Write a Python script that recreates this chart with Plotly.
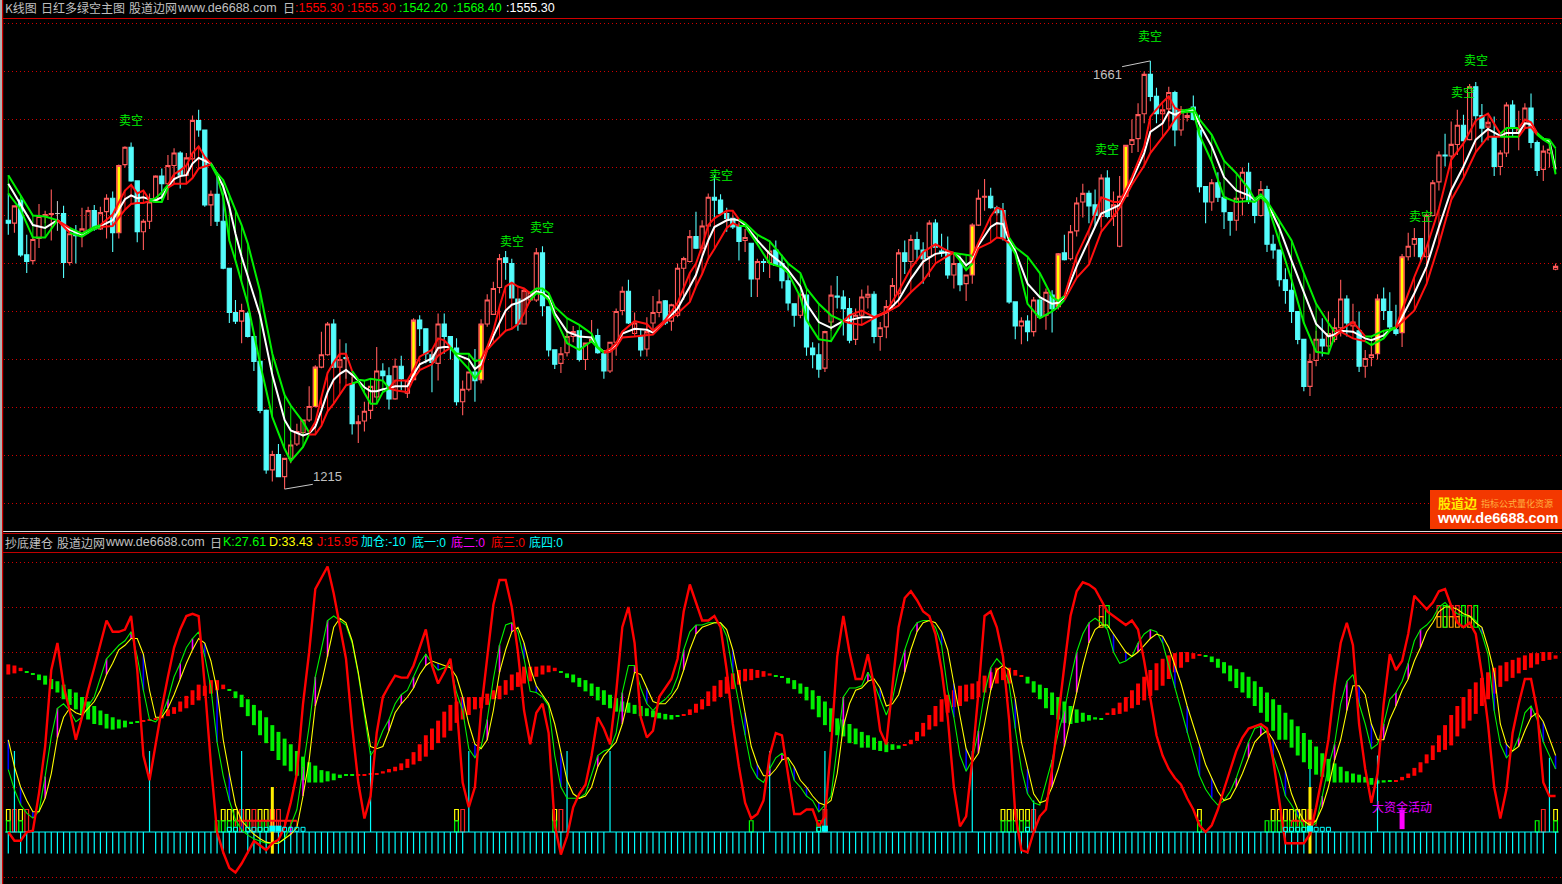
import plotly.graph_objects as go

N = 253
# ---------- price panel ----------
body_hi = [1495,1510,1516,1459,1475,1499,1501,1502,1502,1502,
 1481,1482,1486,1505,1505,1503,1518,1518,1552,1571,
 1571,1536,1494,1514,1541,1541,1552,1565,1565,1560,
 1599,1599,1589,1522,1522,1494,1445,1399,1401,1398,
 1374,1348,1297,1251,1251,1247,1261,1275,1287,1301,
 1342,1355,1387,1387,1350,1352,1325,1285,1296,1322,
 1338,1338,1333,1343,1343,1328,1391,1391,1382,1355,
 1387,1387,1374,1362,1319,1337,1337,1387,1412,1424,
 1455,1456,1450,1413,1422,1420,1461,1461,1405,1360,
 1356,1374,1379,1380,1367,1371,1375,1356,1368,1400,
 1421,1421,1388,1374,1379,1399,1410,1411,1407,1445,
 1455,1478,1478,1489,1519,1519,1516,1502,1497,1489,
 1477,1471,1452,1452,1463,1464,1450,1432,1408,1418,
 1417,1362,1355,1379,1417,1416,1415,1403,1396,1415,
 1418,1418,1383,1405,1427,1461,1461,1475,1475,1464,
 1492,1492,1463,1462,1450,1450,1438,1490,1518,1520,
 1520,1508,1505,1474,1410,1390,1390,1412,1412,1420,
 1417,1460,1461,1483,1513,1523,1523,1511,1539,1539,
 1511,1520,1573,1579,1605,1647,1647,1624,1610,1628,
 1628,1610,1604,1613,1589,1530,1534,1534,1519,1503,
 1518,1545,1545,1515,1527,1527,1470,1464,1433,1422,
 1400,1371,1348,1371,1371,1377,1383,1413,1413,1389,
 1380,1351,1355,1413,1413,1400,1381,1457,1468,1476,
 1476,1500,1534,1563,1563,1574,1594,1594,1634,1634,
 1604,1597,1582,1565,1615,1615,1590,1612,1612,1576,
 1567,1569,1447]
body_lo = [1492,1492,1459,1452,1453,1476,1499,1501,1502,1451,
 1451,1479,1480,1484,1486,1486,1504,1482,1482,1553,
 1536,1483,1483,1494,1514,1533,1533,1552,1542,1542,
 1559,1589,1511,1511,1494,1445,1399,1390,1390,1374,
 1348,1297,1235,1235,1228,1228,1247,1262,1274,1287,
 1301,1342,1355,1342,1342,1351,1283,1283,1286,1297,
 1311,1333,1309,1309,1330,1315,1329,1382,1356,1347,
 1346,1374,1362,1306,1306,1319,1328,1329,1387,1397,
 1425,1451,1414,1387,1387,1412,1412,1406,1360,1345,
 1346,1357,1374,1350,1350,1368,1357,1338,1338,1368,
 1401,1388,1377,1360,1361,1388,1399,1388,1390,1396,
 1445,1452,1466,1466,1489,1516,1502,1497,1488,1473,
 1474,1434,1434,1451,1451,1448,1432,1409,1396,1396,
 1363,1355,1340,1341,1389,1415,1403,1370,1371,1396,
 1415,1374,1374,1384,1406,1419,1452,1452,1465,1455,
 1457,1467,1461,1438,1438,1428,1429,1438,1490,1519,
 1508,1503,1476,1410,1385,1385,1379,1379,1394,1396,
 1403,1405,1454,1455,1484,1514,1510,1500,1499,1499,
 1499,1468,1520,1574,1580,1606,1624,1606,1606,1611,
 1589,1589,1602,1600,1530,1514,1514,1519,1504,1495,
 1495,1518,1515,1500,1500,1470,1464,1433,1422,1400,
 1371,1322,1322,1349,1364,1364,1371,1383,1388,1385,
 1343,1343,1352,1356,1401,1384,1377,1378,1457,1470,
 1457,1457,1500,1535,1562,1562,1574,1578,1579,1604,
 1591,1592,1551,1551,1565,1591,1586,1596,1576,1547,
 1548,1565,1444]
high = [1523,1510,1521,1480,1478,1512,1505,1527,1515,1510,
 1481,1490,1508,1509,1511,1509,1522,1525,1553,1572,
 1576,1536,1496,1523,1542,1549,1563,1570,1567,1565,
 1604,1610,1589,1526,1545,1523,1445,1412,1408,1400,
 1374,1348,1298,1255,1262,1247,1266,1283,1287,1322,
 1344,1379,1389,1392,1371,1367,1332,1292,1306,1322,
 1363,1346,1342,1351,1354,1329,1393,1396,1382,1360,
 1398,1398,1374,1372,1328,1337,1361,1392,1418,1431,
 1460,1463,1455,1413,1424,1420,1466,1468,1405,1360,
 1363,1380,1385,1380,1367,1391,1382,1360,1368,1403,
 1426,1433,1399,1382,1394,1416,1423,1412,1408,1450,
 1457,1485,1504,1495,1523,1542,1522,1508,1500,1492,
 1486,1471,1455,1455,1474,1474,1459,1440,1408,1418,
 1419,1368,1367,1380,1427,1437,1422,1414,1403,1423,
 1427,1421,1389,1412,1435,1465,1474,1480,1483,1472,
 1495,1496,1481,1478,1460,1457,1438,1492,1527,1538,
 1529,1510,1513,1474,1410,1394,1396,1415,1412,1424,
 1422,1461,1480,1490,1519,1533,1526,1527,1543,1547,
 1525,1541,1573,1600,1617,1650,1661,1633,1615,1634,
 1630,1614,1610,1625,1605,1530,1538,1545,1519,1503,
 1520,1550,1555,1518,1536,1531,1480,1464,1445,1438,
 1400,1371,1356,1380,1393,1400,1393,1433,1417,1408,
 1400,1360,1367,1418,1425,1420,1407,1460,1482,1487,
 1476,1502,1537,1567,1585,1598,1610,1605,1637,1639,
 1616,1599,1603,1568,1618,1620,1609,1617,1627,1578,
 1573,1578,1450]
low = [1480,1482,1457,1440,1449,1466,1492,1474,1484,1435,
 1448,1450,1467,1481,1484,1485,1476,1462,1476,1550,
 1535,1472,1464,1486,1513,1516,1516,1533,1528,1533,
 1558,1582,1509,1489,1489,1444,1388,1387,1367,1373,
 1338,1294,1231,1223,1228,1215,1242,1260,1269,1285,
 1300,1341,1354,1341,1325,1330,1272,1263,1275,1288,
 1308,1328,1298,1308,1318,1310,1328,1364,1346,1316,
 1328,1356,1350,1302,1292,1317,1306,1325,1384,1397,
 1419,1433,1414,1380,1387,1410,1410,1395,1353,1340,
 1336,1353,1368,1348,1339,1368,1356,1330,1336,1354,
 1396,1387,1375,1353,1353,1380,1394,1386,1380,1394,
 1412,1451,1465,1465,1488,1495,1500,1483,1486,1453,
 1462,1415,1415,1441,1435,1448,1424,1401,1384,1393,
 1354,1341,1331,1337,1380,1403,1375,1367,1365,1394,
 1403,1367,1359,1372,1403,1417,1439,1443,1453,1429,
 1436,1453,1457,1434,1424,1421,1411,1429,1489,1505,
 1507,1500,1474,1408,1371,1366,1369,1374,1393,1381,
 1378,1402,1453,1453,1478,1498,1492,1489,1488,1497,
 1489,1467,1519,1565,1566,1596,1619,1596,1605,1598,
 1572,1583,1598,1599,1524,1492,1505,1514,1486,1479,
 1484,1500,1512,1492,1499,1462,1455,1426,1408,1388,
 1366,1317,1312,1343,1353,1356,1368,1374,1374,1377,
 1337,1331,1343,1350,1391,1379,1375,1363,1453,1457,
 1450,1457,1499,1526,1551,1549,1563,1577,1578,1597,
 1576,1578,1541,1542,1561,1582,1568,1590,1570,1541,
 1536,1550,1443]
candle_dir = ("CRCCRRRRCC" "RCRRCRRCRR" "CCRRRCRRCR" "RCCRCCCCRC" "CCCRCRRRRR"
              "RRRCRCCRRR" "RCCRCRRCCC" "RCCCRRCRRR" "RCCCRRRCCC" "RRRCRRCCRR"
              "RCRCRRRCRR" "RRCRRCCCCC" "RCRCRCCCCR" "CCCRRCCCRR" "RCRRRRCRCC"
              "RCCCRCRRRR" "CCCCCRCRCR" "CRCRRRCCRC" "RRRRRRCCRR" "CRRCCCRCCC"
              "RRCCRCCCCC" "CCRRCRRRCR" "CRRRCCCRRR" "CRRRCRRCRC" "CRCRRCRRCC"
              "RRR")

marked = [18, 50, 66, 77, 157, 171, 182, 223, 227]
sell_i = [20, 82, 87, 116, 179, 186, 237, 239, 230]
sell_p = [1600, 1474, 1489, 1543, 1570, 1687, 1629, 1662, 1500]

ma_idx = [0,2,4,6,8,10,12,14,15,17,
 19,20,21,22,23,24,25,26,27,28,
 29,30,31,32,33,34,35,36,37,38,
 39,41,43,45,46,48,49,50,51,52,
 53,54,55,56,57,58,59,60,61,62,
 63,65,66,67,69,70,71,72,73,75,
 76,77,78,79,80,81,82,83,84,85,
 86,87,88,89,91,93,95,96,97,98,
 99,100,102,104,105,107,109,111,112,113,
 114,115,117,118,119,120,122,124,126,127,
 129,130,132,134,136,137,139,141,143,145,
 147,149,151,153,154,155,156,157,158,160,
 161,162,163,164,166,168,170,171,172,174,
 176,178,180,181,183,185,186,188,189,190,
 191,192,193,194,196,198,200,202,203,204,
 205,207,209,211,213,215,216,217,219,221,
 222,224,225,226,227,229,231,233,235,237,
 239,241,243,244,246,247,248,249,250,251,252]
ma_a = [1542,1521,1500,1499,1495,1487,1481,1488,1490,1501,
 1526,1532,1523,1526,1516,1518,1524,1532,1543,1547,
 1552,1565,1572,1561,1554,1544,1537,1521,1504,1490,
 1471,1421,1356,1313,1302,1285,1274,1285,1311,1336,
 1347,1356,1356,1338,1329,1328,1330,1329,1328,1320,
 1328,1328,1339,1353,1360,1372,1370,1363,1356,1356,
 1348,1350,1363,1380,1405,1426,1430,1426,1424,1419,
 1424,1424,1419,1405,1393,1386,1377,1363,1358,1361,
 1367,1379,1390,1387,1380,1391,1409,1440,1450,1468,
 1490,1497,1505,1505,1496,1492,1480,1473,1458,1450,
 1440,1424,1408,1396,1390,1396,1401,1394,1400,1421,
 1445,1462,1470,1463,1461,1460,1459,1458,1472,1499,
 1508,1506,1477,1467,1457,1440,1415,1411,1416,1458,
 1485,1519,1514,1514,1540,1572,1603,1618,1624,1612,
 1609,1610,1612,1600,1584,1557,1544,1528,1517,1522,
 1515,1495,1474,1440,1408,1388,1379,1381,1389,1374,
 1374,1380,1381,1384,1401,1436,1467,1507,1558,1575,
 1599,1606,1585,1591,1591,1600,1597,1586,1580,1579,1570]
ma_b = [1523,1506,1477,1477,1495,1482,1478,1486,1488,1489,
 1506,1512,1513,1513,1515,1514,1514,1529,1533,1533,
 1533,1539,1549,1551,1553,1541,1519,1474,1453,1431,
 1408,1346,1290,1257,1244,1259,1272,1272,1281,1296,
 1304,1313,1323,1325,1327,1315,1304,1304,1316,1320,
 1318,1316,1330,1339,1345,1354,1358,1362,1354,1340,
 1330,1339,1360,1367,1374,1380,1382,1387,1398,1412,
 1419,1418,1412,1394,1367,1360,1369,1362,1357,1358,
 1363,1373,1374,1375,1376,1389,1398,1410,1426,1439,
 1455,1465,1487,1492,1489,1489,1470,1450,1446,1440,
 1415,1391,1371,1369,1390,1388,1386,1393,1399,1406,
 1420,1432,1450,1458,1461,1453,1443,1450,1466,1472,
 1477,1476,1471,1460,1408,1393,1400,1405,1412,1435,
 1449,1483,1499,1508,1532,1552,1565,1582,1590,1600,
 1607,1608,1608,1584,1556,1519,1514,1515,1514,1519,
 1513,1473,1433,1388,1358,1356,1374,1379,1372,1369,
 1365,1372,1380,1383,1389,1401,1429,1470,1516,1539,
 1566,1582,1582,1582,1582,1591,1592,1584,1579,1575,1543]
ma_mid = [1533,1512,1490,1487,1495,1485,1480,1487,1489,1495,
 1517,1521,1518,1519,1517,1516,1519,1530,1538,1541,
 1542,1554,1560,1557,1554,1543,1530,1509,1481,1457,
 1436,1396,1334,1287,1276,1271,1273,1280,1297,1316,
 1329,1335,1339,1334,1328,1321,1317,1317,1319,1320,
 1322,1322,1334,1345,1351,1362,1363,1363,1355,1350,
 1340,1345,1361,1375,1388,1401,1407,1409,1412,1416,
 1421,1419,1415,1398,1379,1374,1373,1363,1358,1360,
 1365,1377,1382,1381,1378,1390,1403,1426,1438,1457,
 1474,1488,1495,1496,1495,1490,1474,1460,1450,1443,
 1426,1408,1389,1383,1390,1391,1394,1394,1399,1412,
 1434,1452,1460,1462,1461,1456,1448,1453,1469,1488,
 1492,1491,1474,1463,1429,1415,1408,1409,1415,1447,
 1474,1502,1508,1511,1537,1565,1587,1596,1608,1605,
 1608,1609,1609,1595,1572,1540,1526,1521,1516,1520,
 1514,1487,1453,1419,1387,1374,1376,1380,1379,1372,
 1370,1375,1381,1383,1394,1419,1447,1488,1526,1551,
 1579,1590,1583,1586,1586,1596,1595,1585,1580,1577,1548]
ma_col = ("gggggrgggr" "rrrrrgggrr" "rrrrrggggg" "gggggggrrr" "rrrrgggggg"
          "rrrrrrrrgg" "ggrrrrrrrr" "gggggggggr" "rrrrrrrrrr" "rrrrrggggg"
          "gggggrrrrr" "rrrrrgggrr" "rrrggggggr" "rrrrrrrrrr" "rggggggggg"
          "gggggggrrr" "ggggrrrrrr" "rrrggrrrgg" "g")

label_low_i, label_low_p = 45, 1215
label_high_i, label_high_p = 186, 1661

# ---------- indicator panel ----------
K = [27.7,18.8,12.1,8.4,6.2,9.2,24.7,42.5,55,57,
 54,49,51,56,60,69,77,80,83,85,
 89,78,63,50,49,52,59,69,75,82,
 86,89,78,64,40,25,14,5.5,1,-1.4,
 -3,-4,-5,-5,-5,-3,3,10,29,47,
 69,81,94,96,94,92,84,70,52,34,
 38,45,50,57,61,63,69,75,79,75,
 72,73,74,62,54,37,33,38,50,68,
 83,92,93,89,77,62.5,62,60,56,34,
 20,15,15,15,17,25,34,36,37,44,
 62,74,74,64,57,54,57,59,62,69,
 81,89,92,92,93,93,93,87,71,57,
 43,29,24,22,28,33,35,32,23,20,
 16,14,9,12,16,38,60,64,64,65,
 71,66,59,52,59,72,81,89,93,94,
 94,91,83,63,51,34,27,32,45,62,
 73,77,74,66,46,28,17,13,12,22,
 32,44,54,68,80,88,93,95,93,90,
 80,75,76,78,84,88,90,89,84,74,
 64,54,44,35,25,19,15,12,14,18,
 24,32,40,46,47,44,34,26,16,12,
 7,2,2,4,16,29,39,57,67,70,
 57,48,37,39,48,59,62,67,75,85,
 90,92,95,100,102,99,97,96,96,94,
 88,79,54,39,33,36,42,53,56,50,
 40,34,28]
D = [41,29,20,14,9,9,15,26,42,51,
 55,53,52,55,58,63,70,75,81,83,
 86,86,79,63,51,51,55,61,68,75,
 81,86,84,76,63,41,26,12,5,2,
 -1,-3,-4.5,-5,-5,-3,-1,2,16,32,
 56,66,78,91,95,93,85,71,54,38,
 37,38,45,53,57,60,64,70,74,76,
 75,74,73,69,60,48,39,37,41,54,
 71,81,89,91,84,73,65,61,57,48,
 35,23,17,15,16,20,29,34,37,40,
 48,60,71,70,64,58,57,57,60,64,
 72,81,88,91,92,93,93,90,81,68,
 53,38,30,25,25,28,32,33,29,23,
 20,16,13,12,14,26,47,57,63,64,
 67,68,64,56,57,61,71,81,89,93,
 94,93,89,81,66,51,37,31,35,48,
 63,72,74,72,59,40,28,17,13,14,
 20,28,38,50,62,74,84,90,92,92,
 88,84,80,78,80,83,86,88,87,82,
 74,66,56,47,38,30,24,18,14,15,
 20,26,33,40,43,45,41,35,27,17,
 10,5,3,5,11,20,32,41,54,65,
 65,61,48,41,41,50,56,63,68,76,
 82,89,93,98,100,100,99,97,96,93,
 91,82,71,48,39,36,38,45,51,53,
 49,41,34]
J = [0,-3.9,-3.9,0,0.6,17.3,38,72,84,65,
 54,41,51,63,73,84,94,89,89,90,
 96,72,34,23,40,55,69,82,90,96,
 97,96,65,30,0,-9,-16,-18,-14,-9,
 -4,-6,-8,-5,-3.5,2.4,13,26,57,80,
 108,113,118,106,92,77,47,22,6,16,
 44,60,65,69.5,68.6,68.6,74,82,90,74,
 66,71,77,57,22,11,20,54,77,101,
 112,112,100,80,54,39,53,57,44,3,
 -10,-2,11,17,21,34,51,46,39,62,
 91,100,84,51,42,45,60,64,68,77,
 98,110,102,94,94,96,91,72,48,29,
 13,6,8,14,34,44,43,26,8,8,
 10,10,2.5,7,38,78,96,80,68,68,
 79,65,45,39,66,91,104,107,103,98,
 96,88,72,51,20,2.5,7,32,62,96,
 98,91,78,50,8,-8,-9,0,7,10,
 28,52,74,96,107,111,110,108,103,98,
 96,94,92,94,90,76,59,43,34,28,
 24,21,15,10,3,0,3,10,19,28,
 36,42,46,47,48,46,32,14,-5,-5,
 -5,-5,-1,11,25,41,65,84,93,83,
 48,28,13,26,57,79,72,76,88,105,
 102,99,102,107,108,100,93,91,93,88,
 70,48,20,6,19,44,57,68,68,54,
 22,16,16]
hist_top = [74.5,74,73,71,70.5,70,69.5,68,67,65.5,
 63.5,62,60,58,56,54,52.5,51,50,49.5,
 49,49,49.5,50,50.5,52,54.5,55.5,58,60.5,
 63,65.5,65,67.5,67.5,65.5,63.5,62.5,61,59,
 56.5,54,51,47.5,44.5,41.5,39,36,33.5,31,
 29.5,27.5,27,26,25.5,25,25.5,25.5,25.5,26,
 26,27,28,29,30.5,32.5,35.5,39,43,46,
 49.5,53.5,56.5,58,60,60,60,60,61.5,63,
 65,67.5,70,71,73.5,73.5,73.5,74,74,73,
 71,70.5,70,68.5,67.5,66,64.5,63,61,59.5,
 58,57.5,56.5,56,55,54,53,52.5,52,52,
 52,54.5,57,59,62.5,65,67.5,69,70.5,72,
 72.5,72.5,72,71.5,70.5,69.5,69,68.5,67.5,66,
 64.5,63,60.5,58,55,50.5,50,48,46,44.5,
 43,42,40.5,40,39,38.5,39,41,44.5,48.5,
 52,56,59,61,63,65,65.5,66,67,69.5,
 71,73,73,73,72,69.5,69,67,65.5,64,
 62,60,58,56,54.5,53,52,51,50.5,53,
 55,57.5,60,63,66,69,72,75,77,78.5,
 79.5,80,80,79.5,79,78.5,78,77,75.5,74,
 72.5,71,69,67,64.5,62,59,56.5,53,50,
 47,44,41,38,35,32.5,30.5,29,27,26,
 25.5,24.5,24,23,23,22.5,23,24.5,26,28.5,
 31,34.5,38.5,43,47.5,52,56,60,63.5,66.5,
 68.5,71,73,74,75.5,76.5,77.5,78.5,79.5,79.5,
 80,80,78.5]
hist_bot = [70,70.5,71.5,71,70,67.5,65.5,63.5,62,59,
 56.5,54.5,52,50,48,47.5,46,45.5,46,46.5,
 48,48.5,49,49.5,50,50.5,51.5,52.5,53.5,55,
 56.5,58.5,60.5,61.5,63,63.5,63,59.5,55.5,51.5,
 47.5,43,39.5,36,32,29.5,27,25,23,22,
 22,22,22.5,23,24,25,25,25,25,25.5,
 25.5,26,26.5,27,27.5,28.5,30,31.5,33.5,36.5,
 39.5,42,45,48.5,50,52,54.5,55,56.5,59,
 59,61,63,64.5,66,67,69,70,71,71.5,
 71,68.5,66.5,64.5,62.5,60.5,58.5,56.5,55,53.5,
 53.5,53,52.5,51.5,51.5,51,50.5,50,50,51.5,
 52,52,53,54.5,56,58,60,61.5,63.5,65.5,
 67,67.5,68.5,69,69.5,69,68.5,66,63.5,61.5,
 58.5,54.5,51,47.5,44.5,43,42.5,39.5,39,37.5,
 37.5,36.5,36,35.5,36.5,37,38.5,39,40.5,42.5,
 45.5,47,49,53,55.5,56,58,59,60,62,
 64,66,67.5,66,69.5,69,66,62,59,55,
 52,50,48.5,48,48.5,49,49.5,50,50,52,
 52,52.5,53.5,55,56.5,58.5,60.5,63,65,68,
 71,73,75.5,77,78.5,78,75.5,73,70.5,67,
 64,62,59.5,56,53,49,45,41,41,37.5,
 34,31,28,25.5,24.5,22.5,22,22,22,22,
 22,22,21,21.5,22,22.5,22.5,23,24,25,
 26.5,30.5,32,35.5,36.5,38.5,42.5,46,49.5,52.5,
 56,59,61.5,64.5,67,68.5,70.5,72,73,74.5,
 76,76.5,77]
hist_red_spans = [(0,2),(22,35),(57,89),(110,124),(146,165),(179,194),(226,252)]

up_sticks = [1,23,38,59,75,91,98,124,133,157,167,212,223,251]
up_stick_values = [36,36,36,36,36,36,36,36,36,36,14,28,34,33]
rect_yellow = [0,2,35,36,37,39,41,42,43,73,89,162,163,164,165,166,194,206,207,208,209,210,211,252]
rect_green = [0,2,34,35,36,37,39,41,42,73,89,121,132,162,163,164,165,166,194,205,206,207,208,209,210,211,249,252]
rect_red = [1,3,38,43,90,74,133,167,212,250,44,40]
top_red = [178,233,235,236,238]
top_orange = [178,233,234,235,236,238]
top_green = [179,234,237,239]
hollow_sq = [36,37,39,40,41,42,45,46,47,48,132,166,208,209,210,211,213,214,215]
solid_sq = [43,44,133,212]
box_spans = [(37,47),(209,213)]
big_sticks = [43,212]
money_i = 227
money_v = 10

# ---------- helpers ----------
def py2p(py):
    return 1 - py / 884

fig = go.Figure()
up_i = [i for i in range(N) if candle_dir[i] == "R"]
dn_i = [i for i in range(N) if candle_dir[i] != "R" and i != 8]
UP = "#ff5a5a"; DN = "#54fcfc"

def candle(idx, up):
    col = UP if up else DN
    op = [body_lo[i] if up else body_hi[i] for i in idx]
    cl = [body_hi[i] + 0.01 if up else body_lo[i] for i in idx]
    return go.Candlestick(x=idx, open=op, close=cl,
        high=[high[i] for i in idx], low=[low[i] for i in idx],
        increasing=dict(line=dict(color=col, width=1.1), fillcolor="rgba(0,0,0,0)"),
        decreasing=dict(line=dict(color=col, width=1.1), fillcolor=col),
        whiskerwidth=0, hoverinfo="skip", showlegend=False, xaxis="x", yaxis="y")
fig.add_trace(candle(dn_i, False))
fig.add_trace(candle(up_i, True))

fig.add_trace(go.Bar(x=marked, base=[body_lo[i] for i in marked],
    y=[body_hi[i]-body_lo[i] for i in marked], width=0.78,
    marker=dict(color="#ff5a28", line=dict(width=0)), hoverinfo="skip", xaxis="x", yaxis="y"))
fig.add_trace(go.Bar(x=marked, base=[body_lo[i] for i in marked],
    y=[body_hi[i]-body_lo[i] for i in marked], width=0.4,
    marker=dict(color="#ffff00", line=dict(width=0)), hoverinfo="skip", xaxis="x", yaxis="y"))
fig.add_trace(go.Scatter(x=[8, 8, None, 7.6, 8.4], y=[low[8], high[8], None, body_hi[8], body_hi[8]],
    mode="lines", line=dict(color="#c8c8c8", width=1), hoverinfo="skip", xaxis="x", yaxis="y"))

# hatch and envelope
for key, col in (("g", "#00e600"), ("r", "#ff1010")):
    hx, hy = [], []
    for k, i in enumerate(ma_idx):
        if ma_col[k] == key and abs(ma_a[k]-ma_b[k]) > 4:
            hx += [i, i, None]; hy += [ma_a[k], ma_b[k], None]
    fig.add_trace(go.Scatter(x=hx, y=hy, mode="lines", line=dict(color=col, width=1),
        hoverinfo="skip", xaxis="x", yaxis="y"))
fig.add_trace(go.Scatter(x=ma_idx, y=ma_mid, mode="lines", line=dict(color="#ffffff", width=2),
    hoverinfo="skip", xaxis="x", yaxis="y"))
groups = []
k = 1
while k < len(ma_idx):
    j = k
    while j + 1 < len(ma_idx) and ma_col[j+1] == ma_col[k]:
        j += 1
    groups.append((k-1, j, ma_col[k]))
    k = j + 1
for s, e, c in groups:
    col = "#00f000" if c == "g" else "#ff1010"
    for arr in (ma_a, ma_b):
        fig.add_trace(go.Scatter(x=ma_idx[s:e+1], y=arr[s:e+1], mode="lines",
            line=dict(color=col, width=2), hoverinfo="skip", xaxis="x", yaxis="y"))

# indicator histogram
is_red = [any(a <= i <= b for a, b in hist_red_spans) for i in range(N)]
for flag, col in ((True, "#ff0000"), (False, "#00ee00")):
    idx = [i for i in range(N) if is_red[i] == flag]
    fig.add_trace(go.Bar(x=idx, base=[hist_bot[i] for i in idx],
        y=[max(hist_top[i]-hist_bot[i], 0.4) for i in idx], width=0.64,
        marker=dict(color=col, line=dict(width=0)), hoverinfo="skip", xaxis="x2", yaxis="y2"))

# small rectangles
def rects(idx, lo, hi, col):
    fig.add_trace(go.Bar(x=idx, base=[lo]*len(idx), y=[hi-lo]*len(idx), width=0.6,
        marker=dict(color="rgba(0,0,0,0)", line=dict(color=col, width=1.2)),
        hoverinfo="skip", xaxis="x2", yaxis="y2"))
rects(rect_yellow, 5, 10, "#ffff00")
rects(rect_green, 0, 5, "#00ff00")
rects(rect_red, 0, 10, "#ff2020")
rects(top_red, 95.7, 100.6, "#ff2020")
rects(top_orange, 91, 95.7, "#ffa000")
rects(top_green, 91, 100.6, "#00ff00")

# cyan ticks and sticks
tx, ty = [], []
for i in range(N):
    if i not in up_sticks and i not in big_sticks:
        tx += [i, i, None]; ty += [0, -9.6, None]
fig.add_trace(go.Scatter(x=tx, y=ty, mode="lines", line=dict(color="#00ffff", width=1.2),
    hoverinfo="skip", xaxis="x2", yaxis="y2"))
ux, uy = [], []
for i, v in zip(up_sticks, up_stick_values):
    ux += [i, i, None]; uy += [0, v, None]
fig.add_trace(go.Scatter(x=ux, y=uy, mode="lines", line=dict(color="#00ffff", width=1.2),
    hoverinfo="skip", xaxis="x2", yaxis="y2"))
fig.add_trace(go.Scatter(x=[-0.5, N-0.5], y=[0, 0], mode="lines", line=dict(color="#00ffff", width=1.2),
    hoverinfo="skip", xaxis="x2", yaxis="y2"))
for i in big_sticks:
    fig.add_trace(go.Scatter(x=[i, i], y=[-9.6, 20], mode="lines", line=dict(color="#ffee00", width=3),
        hoverinfo="skip", xaxis="x2", yaxis="y2"))
fig.add_trace(go.Scatter(x=[money_i, money_i], y=[1.3, money_v], mode="lines",
    line=dict(color="#ff00ff", width=5), hoverinfo="skip", xaxis="x2", yaxis="y2"))

# K-D sticks
for test, col in ((lambda a, b: a > b, "#ff00ff"), (lambda a, b: a < b, "#0000ff")):
    sx, sy = [], []
    for i in range(0, N, 2):
        if test(K[i], D[i]) and abs(K[i]-D[i]) > 2:
            sx += [i, i, None]; sy += [K[i], D[i], None]
    fig.add_trace(go.Scatter(x=sx, y=sy, mode="lines", line=dict(color=col, width=1.6),
        hoverinfo="skip", xaxis="x2", yaxis="y2"))

# red box lines
for a, b in box_spans:
    fig.add_trace(go.Scatter(x=[a, b], y=[5, 5], mode="lines", line=dict(color="#ff1010", width=2),
        hoverinfo="skip", xaxis="x2", yaxis="y2"))
    sx, sy = [], []
    for i in range(a, b+1):
        sx += [i, i, None]; sy += [5, 2.5, None]
    fig.add_trace(go.Scatter(x=sx, y=sy, mode="lines", line=dict(color="#ff1010", width=1),
        hoverinfo="skip", xaxis="x2", yaxis="y2"))

xs = list(range(N))
fig.add_trace(go.Scatter(x=xs, y=K, mode="lines", line=dict(color="#00f000", width=1.1),
    hoverinfo="skip", xaxis="x2", yaxis="y2"))
fig.add_trace(go.Scatter(x=xs, y=D, mode="lines", line=dict(color="#ffff00", width=1.1),
    hoverinfo="skip", xaxis="x2", yaxis="y2"))
fig.add_trace(go.Scatter(x=xs, y=J, mode="lines", line=dict(color="#ff0000", width=2.4),
    hoverinfo="skip", xaxis="x2", yaxis="y2"))
fig.add_trace(go.Scatter(x=hollow_sq, y=[1.2]*len(hollow_sq), mode="markers",
    marker=dict(symbol="square-open", size=4, color="#00ffff", line=dict(width=1)),
    hoverinfo="skip", xaxis="x2", yaxis="y2"))
fig.add_trace(go.Scatter(x=solid_sq, y=[1.5]*len(solid_sq), mode="markers",
    marker=dict(symbol="square", size=6, color="#00ffff"),
    hoverinfo="skip", xaxis="x2", yaxis="y2"))

# annotations
CJK = "Noto Sans CJK SC"
LAT = "Liberation Sans, Noto Sans CJK SC"
ann = []
def label(px, py, text, col, size=12.5, family=LAT, anchor="left", bold=False):
    ann.append(dict(x=px/1562, y=py2p(py), xref="paper", yref="paper", text=("<b>%s</b>" % text) if bold else text,
        showarrow=False, xanchor=anchor, yanchor="middle", borderpad=0,
        font=dict(color=col, size=size, family=family)))
GR = "#c0c0c0"
for px, t in [(4,"K线图"),(40,"日红多绿空主图"),(128,"股道边网"),(282,"日")]:
    label(px, 8, t, GR, 12, CJK)
label(176, 8, "www.de6688.com", GR)
for px, t, c in [(294,":1555.30","#ff0000"),(346,":1555.30","#ff0000"),(398,":1542.20","#00ff00"),
                 (452,":1568.40","#00ff00"),(505,":1555.30","#ffffff")]:
    label(px, 8, t, c)
for px, t in [(4,"抄底建仓"),(56,"股道边网"),(209,"日")]:
    label(px, 542, t, GR, 12, CJK)
label(104, 542, "www.de6688.com", GR)
for px, t, c in [(222,"K:27.61","#00ff00"),(268,"D:33.43","#ffff00"),(316,"J:15.95","#ff0000")]:
    label(px, 542, t, c)
for px, t, c in [(360,"加仓:-10","#00ffff"),(411,"底一:0","#00ffff"),(450,"底二:0","#ff00ff"),
                 (490,"底三:0","#ff0000"),(528,"底四:0","#00ffff")]:
    label(px, 542, t, c, 12, LAT)
for i, p in zip(sell_i, sell_p):
    ann.append(dict(x=i, y=p, xref="x", yref="y", text="卖空", showarrow=False,
        font=dict(color="#00f000", size=12, family=CJK)))
ann.append(dict(x=52, y=1228, xref="x", yref="y", text=str(label_low_p), showarrow=False,
    font=dict(color=GR, size=13, family=LAT)))
ann.append(dict(x=179, y=1647, xref="x", yref="y", text=str(label_high_p), showarrow=False,
    font=dict(color=GR, size=13, family=LAT)))
ann.append(dict(x=money_i, y=11.5, xref="x2", yref="y2", text="大资金活动", showarrow=False,
    font=dict(color="#e000ff", size=12, family=CJK)))
label(1437, 502, "股道边", "#ffee00", 13, CJK, bold=True)
label(1480, 503, "指标公式量化资源", "#ffb040", 9, CJK)
label(1436, 518, "www.de6688.com", "#ffffff", 14.5, "Liberation Sans", bold=True)

def hline(py, col, w=1):
    return dict(type="line", xref="paper", yref="paper", x0=0, x1=1, y0=py2p(py), y1=py2p(py),
                line=dict(color=col, width=w), layer="above")
def vline(px, col, w=1, y0=0, y1=884):
    return dict(type="line", xref="paper", yref="paper", x0=px/1562, x1=px/1562, y0=py2p(y0), y1=py2p(y1),
                line=dict(color=col, width=w), layer="above")
shapes = [
    hline(18.5, "#d00000"), hline(531.5, "#e0e0e0"), hline(533.5, "#c00000"), hline(552.5, "#c00000"),
    vline(1, "#b0b0b0", 2), vline(2.6, "#d00000", 1.2),
    dict(type="rect", xref="paper", yref="paper", x0=1430/1562, x1=1, y0=py2p(529), y1=py2p(490),
         fillcolor="#f33800", line=dict(width=0), layer="above"),
    dict(type="line", xref="x", yref="y", x0=label_low_i, y0=label_low_p, x1=49.6, y1=1220,
         line=dict(color="#c8c8c8", width=1)),
    dict(type="line", xref="x", yref="y", x0=label_high_i, y0=label_high_p, x1=181.4, y1=1655,
         line=dict(color="#c8c8c8", width=1)),
]

GRID = "#d00000"
DOTS = "1px,3px"
xr = [(0-8.3)/6.14, (1562-8.3)/6.14]
ax_x = dict(range=xr, showgrid=False, zeroline=False, showticklabels=False, ticks="", fixedrange=True,
            rangeslider=dict(visible=False), showline=False)
fig.update_layout(
    width=1562, height=884, margin=dict(l=0, r=0, t=0, b=0),
    paper_bgcolor="#000000", plot_bgcolor="#000000", showlegend=False, barmode="overlay",
    boxgap=0.32, boxgroupgap=0,
    xaxis=dict(domain=[0, 1], anchor="y", **ax_x),
    xaxis2=dict(domain=[0, 1], anchor="y2", **ax_x),
    yaxis=dict(domain=[py2p(530), py2p(20)], range=[1172.4, 1703.6], tickvals=list(range(1200, 1701, 50)),
               showgrid=True, gridcolor=GRID, griddash=DOTS, gridwidth=1, zeroline=False, showticklabels=False, showline=False),
    yaxis2=dict(domain=[0, py2p(553)], range=[-23.1, 124], tickvals=[-20, 20, 40, 60, 80, 100, 120],
                showgrid=True, gridcolor=GRID, griddash=DOTS, gridwidth=1, zeroline=False, showticklabels=False, showline=False),
    annotations=ann, shapes=shapes,
)
fig.write_html("out.html", config=dict(displayModeBar=False),
    post_script="document.body.style.margin='0';document.body.style.background='#000';document.documentElement.style.overflow='hidden';")
